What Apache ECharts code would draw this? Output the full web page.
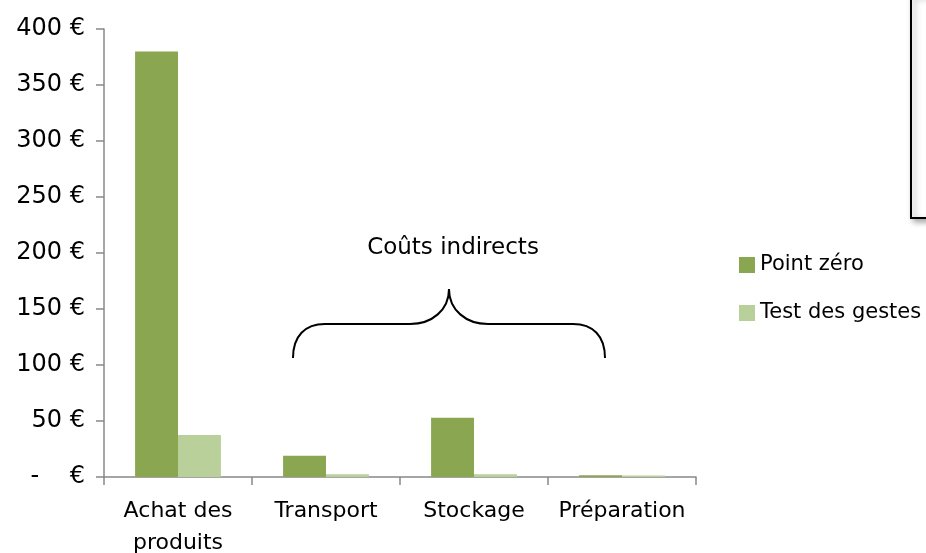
<!DOCTYPE html>
<html>
<head>
<meta charset="utf-8">
<script src="https://cdn.jsdelivr.net/npm/echarts@6/dist/echarts.min.js"></script>
<style>
  html, body { margin: 0; padding: 0; background: #fff; }
  #chart { width: 926px; height: 553px; }
</style>
</head>
<body>
<div id="chart"></div>
<script>
// données
const categories = ['Achat des\nproduits', 'Transport', 'Stockage', 'Préparation'];
const pointZero = [380, 19, 53, 1.5];
const testGestes = [37.5, 2.4, 2.4, 1.3];
const yTicks = [0, 50, 100, 150, 200, 250, 300, 350, 400];

const FONT = 'DejaVu Sans';
const chart = echarts.init(document.getElementById('chart'));

// accolade "Coûts indirects"
const braceStyle = { fill: 'none', stroke: '#000', lineWidth: 2 };
const brace = [
    { type: 'bezierCurve', shape: { x1: 293, y1: 358, cpx1: 293, cpy1: 336, cpx2: 305, cpy2: 324, x2: 325, y2: 324 }, style: braceStyle },
    { type: 'line', shape: { x1: 325, y1: 324, x2: 410, y2: 324 }, style: braceStyle },
    { type: 'bezierCurve', shape: { x1: 410, y1: 324, cpx1: 432, cpy1: 324, cpx2: 449, cpy2: 310, x2: 449, y2: 289 }, style: braceStyle },
    { type: 'bezierCurve', shape: { x1: 449, y1: 289, cpx1: 449, cpy1: 310, cpx2: 466, cpy2: 324, x2: 488, y2: 324 }, style: braceStyle },
    { type: 'line', shape: { x1: 488, y1: 324, x2: 573, y2: 324 }, style: braceStyle },
    { type: 'bezierCurve', shape: { x1: 573, y1: 324, cpx1: 593, cpy1: 324, cpx2: 605, cpy2: 336, x2: 605, y2: 358 }, style: braceStyle }
];

const option = {
    animation: false,
    textStyle: { fontFamily: FONT },
    grid: { left: 104, right: 230, top: 29, bottom: 76, outerBoundsMode: 'none' },
    legend: {
        orient: 'vertical',
        left: 739,
        top: 253,
        padding: 0,
        itemWidth: 16,
        itemHeight: 16,
        itemGap: 24,
        icon: 'rect',
        textStyle: { fontSize: 21, lineHeight: 24, color: '#000', fontFamily: FONT },
        data: ['Point zéro', 'Test des gestes']
    },
    xAxis: {
        type: 'category',
        data: categories,
        axisLine: { lineStyle: { color: '#888', width: 1.5 } },
        axisTick: { show: true, length: 8, lineStyle: { color: '#888', width: 1.5 } },
        axisLabel: { interval: 0, fontSize: 22, color: '#000', lineHeight: 32, margin: 18, fontFamily: FONT }
    },
    yAxis: {
        type: 'value',
        min: yTicks[0],
        max: yTicks[yTicks.length - 1],
        interval: 50,
        splitLine: { show: false },
        axisLine: { show: true, lineStyle: { color: '#888', width: 1.5 } },
        axisTick: { show: true, length: 8, lineStyle: { color: '#888', width: 1.5 } },
        axisLabel: {
            fontSize: 24, color: '#000', margin: 19, fontFamily: FONT,
            formatter: function (v) { return v === 0 ? '-    €' : v + ' €'; }
        }
    },
    series: [
        {
            name: 'Point zéro',
            type: 'bar',
            data: pointZero,
            barGap: '0%',
            barCategoryGap: '42%',
            itemStyle: { color: '#8BA650' }
        },
        {
            name: 'Test des gestes',
            type: 'bar',
            data: testGestes,
            itemStyle: { color: '#B9D09A' }
        }
    ],
    graphic: [
        {
            type: 'text',
            x: 453,
            y: 248,
            style: {
                text: 'Coûts indirects', fontSize: 23, fill: '#000', fontFamily: FONT,
                textAlign: 'center', textVerticalAlign: 'middle'
            }
        }
    ].concat(brace).concat([
        {
            type: 'rect',
            shape: { x: 911, y: -5, width: 40, height: 223 },
            style: {
                fill: '#fff', stroke: '#000', lineWidth: 2,
                shadowBlur: 6, shadowOffsetX: 3, shadowOffsetY: 3, shadowColor: 'rgba(0,0,0,0.35)'
            }
        }
    ])
};

chart.setOption(option);
</script>
</body>
</html>
